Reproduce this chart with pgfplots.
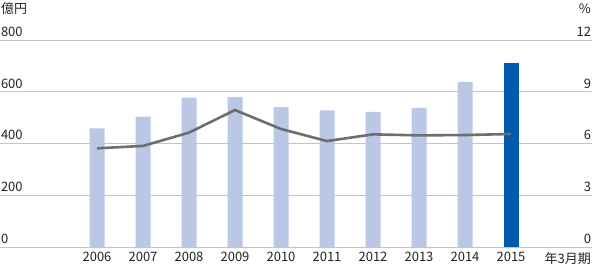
\documentclass[border=0pt]{standalone}
\usepackage{pgfplots}
\pgfplotsset{compat=1.18}
\usepackage{fontspec}
\setmainfont{Noto Sans CJK JP}
\definecolor{barlight}{HTML}{BAC8E6}
\definecolor{bardark}{HTML}{005BAC}
\definecolor{gridc}{HTML}{C4C4C4}
\definecolor{linec}{HTML}{6E6E6E}
\definecolor{txt}{HTML}{222222}
\begin{document}
\begin{tikzpicture}[font=\fontsize{13}{15}\selectfont, text=txt]
\pgfplotsset{
  common/.style={
    width=592pt, height=207pt, scale only axis,
    xmin=-2.109, xmax=10.761,
    axis line style={draw=none},
    major tick length=0pt,
    tick style={draw=none},
  }
}
\begin{axis}[common,
  clip=false,
  ymin=0, ymax=800,
  ytick={0,200,400,600,800},
  yticklabels={0,200,400,600,800},
  yticklabel style={anchor=south west, xshift=-2.5pt, text=txt},
  ymajorgrids, major grid style={gridc, line width=0.8pt},
  xtick={0,...,9},
  xticklabels={2006,2007,2008,2009,2010,2011,2012,2013,2014,2015},
  xticklabel style={yshift=-2pt, text=txt},
]
\addplot[ybar, bar width=15pt, bar shift=0pt, fill=barlight, draw=none]
  coordinates {(0,458) (1,504) (2,577) (3,579) (4,541) (5,528) (6,522) (7,538) (8,638)};
\addplot[ybar, bar width=15pt, bar shift=0pt, fill=bardark, draw=none]
  coordinates {(9,711)};
\coordinate (bl) at (rel axis cs:0,0);
\coordinate (tr) at (rel axis cs:1,1);
\node[anchor=base west, inner sep=0pt, xshift=1pt, yshift=26pt, text=txt] at (rel axis cs:0,1) {億円};
\node[anchor=base east, inner sep=0pt, xshift=-1pt, yshift=26pt, text=txt] at (rel axis cs:1,1) {\%};
\node[anchor=base east, inner sep=0pt, xshift=-1pt, yshift=-17pt, text=txt] at (rel axis cs:1,0) {年3月期};
\end{axis}
\begin{axis}[common,
  ymin=0, ymax=12,
  axis y line*=right,
  axis x line=none,
  ytick={0,3,6,9,12},
  yticklabels={0,3,6,9,12},
  yticklabel style={anchor=south east, xshift=2.5pt, text=txt},
  xtick=\empty,
]
\addplot[linec, line width=2.6pt, no marks]
  coordinates {(0,5.72) (1,5.86) (2,6.63) (3,7.94) (4,6.84) (5,6.14) (6,6.53) (7,6.47) (8,6.49) (9,6.55)};
\end{axis}
\pgfresetboundingbox
\path ([yshift=-19pt]bl) rectangle ([yshift=40pt]tr);
\end{tikzpicture}
\end{document}
